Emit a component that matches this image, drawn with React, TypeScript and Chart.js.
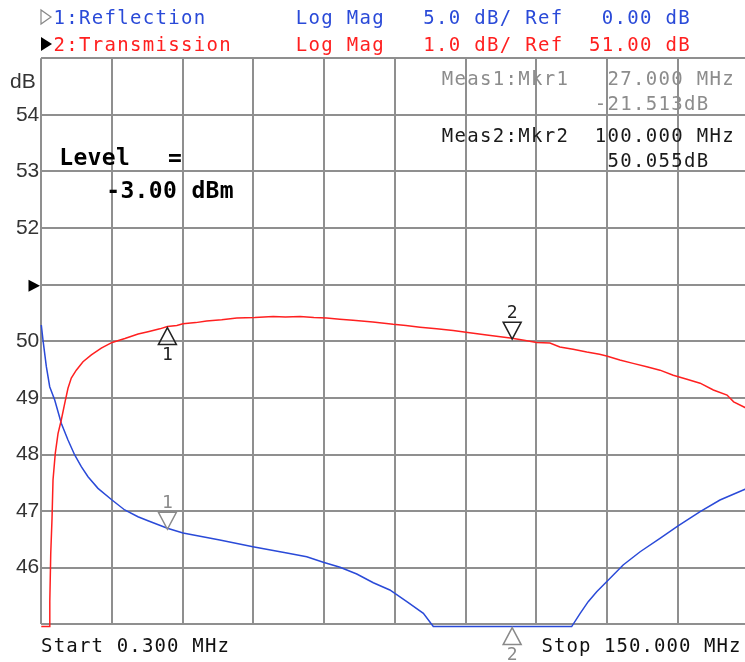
import React, { useEffect, useRef } from "react";
import { Chart, registerables } from "chart.js";

Chart.register(...registerables);

// ---------- data ----------
const startMHz = 0.3;
const stopMHz = 150;
const xDivisions = 10;

const transFreqMHz = [
  0.3, 1.0, 2.0, 2.1, 2.3, 2.57, 2.78, 3.26, 3.84, 4.53, 5.25, 5.95, 6.65, 7.71, 9.13, 10.9, 13.0, 15.3, 18.0,
  20.8, 22.9, 25.4, 27.0, 29.0, 30.3, 33.0, 35.3, 38.5, 41.7, 45.5, 49.4, 52.0, 55.1, 58.0, 60.7, 63.5, 66.3,
  70.5, 74.8, 77.5, 80.5, 84.0, 87.5, 91.0, 94.6, 97.5, 100.0, 102.5, 105.2, 108.0, 110.1, 112.9, 115.8, 118.5,
  120.0, 122.8, 125.6, 128.5, 131.3, 134.1, 137.0, 139.8, 142.6, 145.5, 146.9, 149.3, 150.0,
];
const transDb = [
  44.96, 44.96, 44.96, 45.4, 46.25, 46.87, 47.55, 48.02, 48.37, 48.61, 48.9, 49.17, 49.35, 49.49, 49.64, 49.76,
  49.88, 49.98, 50.05, 50.13, 50.17, 50.22, 50.26, 50.28, 50.31, 50.33, 50.36, 50.38, 50.41, 50.42, 50.44, 50.43,
  50.44, 50.42, 50.41, 50.39, 50.37, 50.34, 50.3, 50.28, 50.25, 50.22, 50.19, 50.15, 50.11, 50.08, 50.055, 50.02,
  49.98, 49.97, 49.9, 49.86, 49.81, 49.77, 49.74, 49.67, 49.61, 49.55, 49.49, 49.4, 49.33, 49.26, 49.14, 49.05,
  48.93, 48.83, 48.8,
];

const reflFreqMHz = [
  0.3, 0.66, 1.37, 2.08, 3.14, 4.53, 5.95, 7.37, 8.77, 10.19, 12.3, 15.27, 17.96, 20.77, 22.89, 27.0, 30.3, 38.1,
  45.1, 52.3, 56.5, 60.0, 63.55, 67.1, 70.6, 74.1, 77.7, 81.2, 83.3, 112.6, 114.4, 116.1, 117.9, 120.0, 123.5,
  127.1, 131.3, 135.05, 139.8, 144.0, 149.3, 150.0,
];
const reflDb = [
  -3.56, -4.89, -7.24, -9.01, -10.19, -12.24, -13.72, -15.04, -16.08, -16.96, -17.99, -19.02, -19.9, -20.5, -20.85,
  -21.513, -21.93, -22.55, -23.14, -23.7, -24.03, -24.52, -24.96, -25.56, -26.33, -26.97, -28.0, -29.03, -30.2,
  -30.2, -29.03, -28.0, -27.12, -26.24, -24.76, -23.59, -22.4, -21.32, -20.05, -19.02, -18.07, -18.0,
];

const markerFreqMHz = [27, 100];
const markerLabels = ["1", "2"];
const markerTransDb = [50.26, 50.055];
const markerReflDb = [-21.513, -30.2];

const transMin = 45;
const transMax = 55;
const transRef = 51;
const reflMin = -30;
const reflMax = 20;

const header1 = "1:Reflection" + " ".repeat(7) + "Log Mag" + "   " + "5.0 dB/ Ref" + "   " + "0.00 dB";
const header2 = "2:Transmission" + " ".repeat(5) + "Log Mag" + "   " + "1.0 dB/ Ref" + "  " + "51.00 dB";
const meas1Line1 = "Meas1:Mkr1   27.000 MHz";
const meas1Line2 = "-21.513dB";
const meas2Line1 = "Meas2:Mkr2  100.000 MHz";
const meas2Line2 = "50.055dB";
const levelLine1 = "Level";
const levelEq = "=";
const levelLine2 = "-3.00 dBm";
const startLabel = "Start 0.300 MHz";
const stopLabel = "Stop 150.000 MHz";
const yUnit = "dB";

// ---------- styles ----------
const RED = "#ff2020";
const BLUE = "#2a4ad8";
const GRID = "#8f8f8f";
const MONO = "'DejaVu Sans Mono', monospace";
const SANS = "'Liberation Sans', Arial, sans-serif";

function drawMono(ctx: CanvasRenderingContext2D, s: string, x: number, y: number, adv: number) {
  ctx.textAlign = "center";
  for (let i = 0; i < s.length; i++) {
    const c = s[i];
    if (c !== " ") ctx.fillText(c, x + i * adv + adv / 2, y);
  }
}

function drawMarker(
  ctx: CanvasRenderingContext2D,
  x: number,
  apexY: number,
  dir: "up" | "down",
  color: string,
  label: string
) {
  ctx.save();
  ctx.strokeStyle = color;
  ctx.fillStyle = color;
  ctx.lineWidth = 1.5;
  const hw = 9;
  const h = 17;
  ctx.beginPath();
  if (dir === "down") {
    ctx.moveTo(x, apexY);
    ctx.lineTo(x - hw, apexY - h);
    ctx.lineTo(x + hw, apexY - h);
  } else {
    ctx.moveTo(x, apexY);
    ctx.lineTo(x - hw, apexY + h);
    ctx.lineTo(x + hw, apexY + h);
  }
  ctx.closePath();
  ctx.stroke();
  ctx.font = `18px ${MONO}`;
  ctx.textAlign = "center";
  ctx.textBaseline = "alphabetic";
  if (dir === "down") ctx.fillText(label, x, apexY - h - 4);
  else ctx.fillText(label, x, apexY + h + 15);
  ctx.restore();
}

const overlayPlugin = {
  id: "analyzerOverlay",
  afterDraw(chart: any) {
    const ctx: CanvasRenderingContext2D = chart.ctx;
    const xs = chart.scales.x;
    const ys = chart.scales.y;
    const y2 = chart.scales.y2;
    ctx.save();
    ctx.textBaseline = "alphabetic";

    // header
    const adv = 12.75;
    ctx.strokeStyle = "#888";
    ctx.lineWidth = 1.2;
    ctx.beginPath();
    ctx.moveTo(41, 10);
    ctx.lineTo(41, 24);
    ctx.lineTo(51, 17);
    ctx.closePath();
    ctx.stroke();
    ctx.font = `19px ${MONO}`;
    ctx.fillStyle = BLUE;
    drawMono(ctx, header1, 40 + adv, 24, adv);

    ctx.fillStyle = "#000";
    ctx.beginPath();
    ctx.moveTo(41, 37);
    ctx.lineTo(41, 51);
    ctx.lineTo(52, 44);
    ctx.closePath();
    ctx.fill();
    ctx.fillStyle = RED;
    drawMono(ctx, header2, 40 + adv, 51, adv);

    // measurement readouts
    ctx.fillStyle = "#8c8c8c";
    drawMono(ctx, meas1Line1, 441, 85, adv);
    drawMono(ctx, meas1Line2, 441 + 12 * adv, 110, adv);
    ctx.fillStyle = "#1a1a1a";
    drawMono(ctx, meas2Line1, 441, 142, adv);
    drawMono(ctx, meas2Line2, 441 + 13 * adv, 167, adv);

    // level
    ctx.fillStyle = "#000";
    ctx.font = `bold 23px ${MONO}`;
    drawMono(ctx, levelLine1, 59, 165, 14.2);
    drawMono(ctx, levelEq, 166, 165, 18);
    drawMono(ctx, levelLine2, 106, 198, 14.2);

    // footer
    ctx.font = `19px ${MONO}`;
    ctx.fillStyle = "#111";
    drawMono(ctx, startLabel, 40.5, 651.5, 12.6);
    drawMono(ctx, stopLabel, 541, 651.5, 12.5);

    // y unit
    ctx.font = `21px ${SANS}`;
    ctx.fillStyle = "#333";
    ctx.textAlign = "left";
    ctx.fillText(yUnit, 10, 88);

    // reference arrow
    const ry = ys.getPixelForValue(transRef) + 1;
    ctx.fillStyle = "#000";
    ctx.beginPath();
    ctx.moveTo(28.5, ry - 6);
    ctx.lineTo(28.5, ry + 6);
    ctx.lineTo(40, ry);
    ctx.closePath();
    ctx.fill();

    // markers
    for (let i = 0; i < markerFreqMHz.length; i++) {
      const px = xs.getPixelForValue(markerFreqMHz[i]);
      const pt = ys.getPixelForValue(markerTransDb[i]) + 1;
      const pr = y2.getPixelForValue(markerReflDb[i]) + 1;
      drawMarker(ctx, px, pt, i === 0 ? "up" : "down", "#222", markerLabels[i]);
      drawMarker(ctx, px, pr, i === 0 ? "down" : "up", "#8a8a8a", markerLabels[i]);
    }
    ctx.restore();
  },
};

export default function App() {
  const ref = useRef<HTMLCanvasElement>(null);
  useEffect(() => {
    const canvas = ref.current!;
    const step = (stopMHz - startMHz) / xDivisions;
    const chart = new Chart(canvas, {
      type: "line",
      data: {
        datasets: [
          {
            label: "Transmission",
            data: transFreqMHz.map((f, i) => ({ x: f, y: transDb[i] })),
            borderColor: RED,
            borderWidth: 1.5,
            pointRadius: 0,
            yAxisID: "y",
            clip: false as any,
            tension: 0,
          },
          {
            label: "Reflection",
            data: reflFreqMHz.map((f, i) => ({ x: f, y: reflDb[i] })),
            borderColor: BLUE,
            borderWidth: 1.5,
            pointRadius: 0,
            yAxisID: "y2",
            clip: false as any,
            tension: 0,
          },
        ],
      },
      options: {
        responsive: false,
        animation: false,
        events: [],
        layout: { padding: { top: 58.3, right: 11.7, bottom: 37.7, left: 0 } },
        plugins: { legend: { display: false }, tooltip: { enabled: false } },
        scales: {
          x: {
            type: "linear",
            min: startMHz,
            max: stopMHz,
            afterBuildTicks: (s: any) => {
              const t = [];
              for (let i = 0; i <= xDivisions; i++) t.push({ value: startMHz + i * step });
              s.ticks = t;
            },
            ticks: { display: false },
            grid: { color: GRID, lineWidth: 2, drawTicks: false },
            border: { display: false },
            afterFit: (s: any) => {
              s.height = 0;
            },
          },
          y: {
            type: "linear",
            position: "left",
            min: transMin,
            max: transMax,
            ticks: {
              stepSize: 1,
              callback: (v: any) => (v === transMin || v === transMax || v === transRef ? "" : String(v)),
              font: { family: SANS, size: 21 },
              color: "#333",
              padding: 2,
            },
            grid: { color: GRID, lineWidth: 2, drawTicks: false },
            border: { display: false },
            afterFit: (s: any) => {
              s.width = 41.3;
            },
          },
          y2: {
            type: "linear",
            display: false,
            min: reflMin,
            max: reflMax,
          },
        },
      } as any,
      plugins: [overlayPlugin],
    });
    return () => chart.destroy();
  }, []);
  return (
    <div
      style={{
        position: "fixed",
        left: 0,
        top: 0,
        width: 745,
        height: 662,
        overflow: "hidden",
        background: "#fff",
      }}
    >
      <canvas ref={ref} width={760} height={662} style={{ display: "block", width: 760, height: 662 }} />
    </div>
  );
}
